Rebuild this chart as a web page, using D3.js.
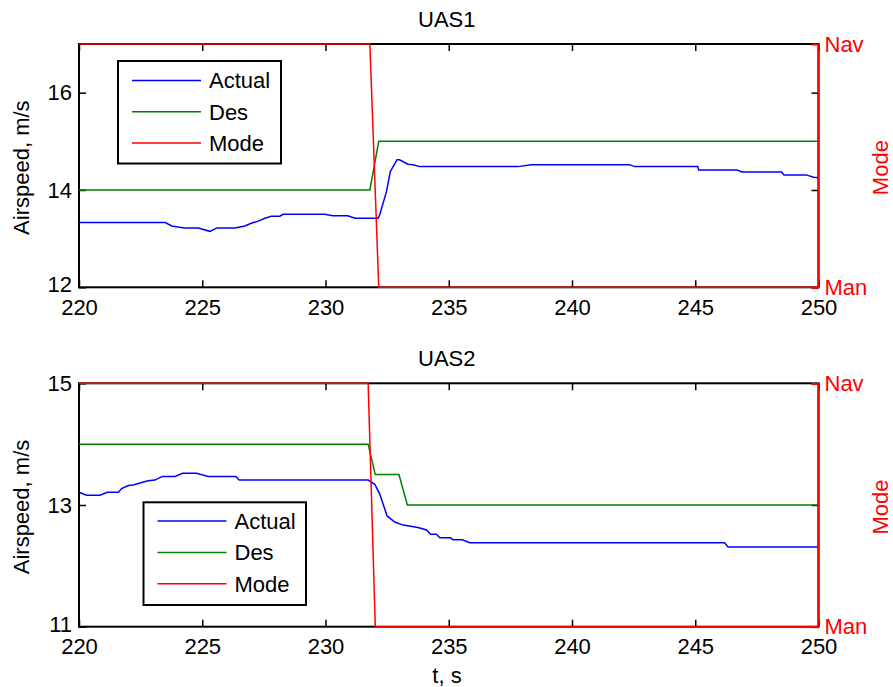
<!DOCTYPE html>
<html>
<head>
<meta charset="utf-8">
<script src="https://cdn.jsdelivr.net/npm/d3@7"></script>
<style>
  html, body { margin: 0; padding: 0; background: #fff; }
  svg { display: block; }
  text { font-family: "Liberation Sans", Arial, sans-serif; }
</style>
</head>
<body>
<svg id="chart" width="893" height="687"></svg>
<script>
// ---------------- DATA ----------------
const timeTicks = [220, 225, 230, 235, 240, 245, 250];
const timeDomain = [220, 250];
const seriesNames = ["Actual", "Des", "Mode"];
const modeLabels = ["Man", "Nav"];   // 0 = Man, 1 = Nav

// UAS1
const uas1Title = "UAS1";
const uas1YDomain = [12, 17];
const uas1YTicks = [12, 14, 16];
const uas1ActualT = [220, 223.5, 223.76, 224.0, 224.3, 224.84, 225.31, 225.6, 226.32, 226.73, 226.96, 227.27, 227.54, 227.8, 228.15, 228.28, 229.97, 230.3, 230.9, 231.2, 232.13, 232.2, 232.47, 232.63, 232.9, 233.0, 233.35, 233.55, 233.82, 237.8, 238.35, 242.34, 242.54, 245.1, 245.14, 246.7, 246.9, 248.5, 248.6, 249.5, 249.8, 250];
const uas1ActualV = [13.33, 13.33, 13.26, 13.24, 13.22, 13.22, 13.15, 13.22, 13.22, 13.26, 13.31, 13.36, 13.42, 13.46, 13.46, 13.5, 13.5, 13.47, 13.47, 13.42, 13.42, 13.49, 13.96, 14.38, 14.62, 14.62, 14.53, 14.52, 14.48, 14.48, 14.52, 14.52, 14.48, 14.48, 14.41, 14.41, 14.37, 14.37, 14.31, 14.31, 14.26, 14.25];
const uas1DesT = [220, 231.8, 232.16, 250];
const uas1DesV = [14, 14, 15, 15];
const uas1ModeT = [220, 231.8, 232.16, 250];
const uas1ModeV = [1, 1, 0, 0];

// UAS2
const uas2Title = "UAS2";
const uas2YDomain = [11, 15];
const uas2YTicks = [11, 13, 15];
const uas2ActualT = [220, 220.31, 220.85, 221.15, 221.6, 221.73, 222.0, 222.2, 222.54, 222.81, 223.08, 223.38, 223.9, 224.2, 224.77, 225.24, 226.36, 226.5, 231.73, 232.0, 232.2, 232.5, 232.81, 233.15, 233.75, 234.1, 234.26, 234.5, 234.64, 235.07, 235.17, 235.55, 235.85, 246.19, 246.33, 250];
const uas2ActualV = [13.21, 13.16, 13.16, 13.21, 13.21, 13.27, 13.32, 13.33, 13.37, 13.40, 13.41, 13.47, 13.47, 13.52, 13.52, 13.47, 13.47, 13.41, 13.41, 13.34, 13.18, 12.82, 12.72, 12.67, 12.63, 12.59, 12.52, 12.52, 12.46, 12.46, 12.43, 12.43, 12.38, 12.38, 12.31, 12.31];
const uas2DesT = [220, 231.73, 232.02, 232.98, 233.32, 250];
const uas2DesV = [14, 14, 13.5, 13.5, 13, 13];
const uas2ModeT = [220, 231.73, 232.02, 250];
const uas2ModeV = [1, 1, 0, 0];

// ---------------- DRAW ----------------
const svg = d3.select("#chart");
const FONT = 22;
const colors = { Actual: "#0000ff", Des: "#008000", Mode: "#ff0000" };

function zip(t, v) { return t.map((d, i) => [d, v[i]]); }

function panel(cfg) {
  const { top, bottom, left, right } = cfg;
  const x = d3.scaleLinear().domain(timeDomain).range([left, right]);
  const y = d3.scaleLinear().domain(cfg.yDomain).range([bottom, top]);
  const yMode = d3.scaleLinear().domain([0, 1]).range([bottom, top]);
  const g = svg.append("g");

  g.append("rect").attr("x", left).attr("y", top)
    .attr("width", right - left).attr("height", bottom - top).attr("fill", "#fff");

  const xb = g.append("g").attr("transform", `translate(0,${bottom})`)
    .call(d3.axisBottom(x).tickValues(timeTicks).tickFormat(d3.format("d")).tickSize(-7).tickPadding(12));
  const xt = g.append("g").attr("transform", `translate(0,${top})`)
    .call(d3.axisTop(x).tickValues(timeTicks).tickFormat("").tickSize(-7));
  const yl = g.append("g").attr("transform", `translate(${left},0)`)
    .call(d3.axisLeft(y).tickValues(cfg.yTicks).tickFormat(d3.format("d")).tickSize(-7).tickPadding(7));
  const yr = g.append("g").attr("transform", `translate(${right},0)`)
    .call(d3.axisRight(y).tickValues(cfg.yTicks).tickFormat("").tickSize(-7));

  [xb, xt, yl, yr].forEach(a => {
    a.select(".domain").remove();
    a.selectAll(".tick line").attr("stroke", "#000").attr("stroke-width", 1.5);
    a.selectAll(".tick text").attr("fill", "#000").style("font-size", FONT + "px")
      .style("font-family", '"Liberation Sans", Arial, sans-serif');
  });
  // lowest y label sits slightly above the corner, as in the reference
  yl.selectAll(".tick text").filter(d => d === cfg.yDomain[0]).attr("dy", "0.2em");

  g.append("rect").attr("x", left).attr("y", top)
    .attr("width", right - left).attr("height", bottom - top)
    .attr("fill", "none").attr("stroke", "#000").attr("stroke-width", 2);

  const line = d3.line().x(d => x(d[0])).y(d => y(d[1]));
  const lineMode = d3.line().x(d => x(d[0])).y(d => yMode(d[1]));

  g.append("path").datum(zip(cfg.actualT, cfg.actualV)).attr("d", line)
    .attr("fill", "none").attr("stroke", colors.Actual).attr("stroke-width", 1.5);
  g.append("path").datum(zip(cfg.desT, cfg.desV)).attr("d", line)
    .attr("fill", "none").attr("stroke", colors.Des).attr("stroke-width", 1.5);

  const ym = g.append("g").attr("transform", `translate(${right},0)`)
    .call(d3.axisRight(yMode).tickValues([0, 1]).tickFormat(d => modeLabels[d]).tickSize(-7).tickPadding(6));
  ym.select(".domain").remove();
  ym.selectAll(".tick line").attr("stroke", colors.Mode).attr("stroke-width", 2);
  ym.selectAll(".tick text").attr("fill", colors.Mode).style("font-size", FONT + "px")
    .style("font-family", '"Liberation Sans", Arial, sans-serif');

  g.append("path").datum(zip(cfg.modeT, cfg.modeV)).attr("d", lineMode)
    .attr("fill", "none").attr("stroke", colors.Mode).attr("stroke-width", 1.5);

  g.append("line").attr("x1", right).attr("x2", right).attr("y1", top).attr("y2", bottom)
    .attr("stroke", colors.Mode).attr("stroke-width", 2);

  g.append("text").attr("x", (left + right) / 2 - 2).attr("y", top - 17)
    .attr("text-anchor", "middle").style("font-size", FONT + "px").attr("fill", "#000")
    .text(cfg.title);

  const cy = (top + bottom) / 2 + 2;
  g.append("text").attr("transform", `translate(29,${cy}) rotate(-90)`)
    .attr("text-anchor", "middle").style("font-size", FONT + "px").attr("fill", "#000")
    .text("Airspeed, m/s");
  g.append("text").attr("transform", `translate(888,${cy}) rotate(-90)`)
    .attr("text-anchor", "middle").style("font-size", FONT + "px").attr("fill", colors.Mode)
    .text("Mode");

  const L = cfg.legend;
  const lg = g.append("g");
  lg.append("rect").attr("x", L.x).attr("y", L.y).attr("width", L.w).attr("height", L.h)
    .attr("fill", "#fff").attr("stroke", "#000").attr("stroke-width", 2);
  seriesNames.forEach((name, i) => {
    const ly = L.y + L.first + i * L.step;
    lg.append("line").attr("x1", L.x + 14).attr("x2", L.x + 83).attr("y1", ly).attr("y2", ly)
      .attr("stroke", colors[name]).attr("stroke-width", 1.5);
    lg.append("text").attr("x", L.x + 91).attr("y", ly).attr("dy", "0.36em")
      .style("font-size", FONT + "px").attr("fill", "#000").text(name);
  });

  return { x, y };
}

panel({
  top: 44, bottom: 287.3, left: 79, right: 818.5,
  yDomain: uas1YDomain, yTicks: uas1YTicks, title: uas1Title,
  actualT: uas1ActualT, actualV: uas1ActualV,
  desT: uas1DesT, desV: uas1DesV, modeT: uas1ModeT, modeV: uas1ModeV,
  legend: { x: 118, y: 61, w: 163, h: 102.5, first: 19.5, step: 31.3 }
});

panel({
  top: 383.3, bottom: 626.7, left: 79, right: 818.5,
  yDomain: uas2YDomain, yTicks: uas2YTicks, title: uas2Title,
  actualT: uas2ActualT, actualV: uas2ActualV,
  desT: uas2DesT, desV: uas2DesV, modeT: uas2ModeT, modeV: uas2ModeV,
  legend: { x: 143.5, y: 502.3, w: 162.5, h: 102.7, first: 18.8, step: 31.3 }
});

svg.append("text").attr("x", 447).attr("y", 683).attr("text-anchor", "middle")
  .style("font-size", FONT + "px").attr("fill", "#000").text("t, s");
</script>
</body>
</html>
